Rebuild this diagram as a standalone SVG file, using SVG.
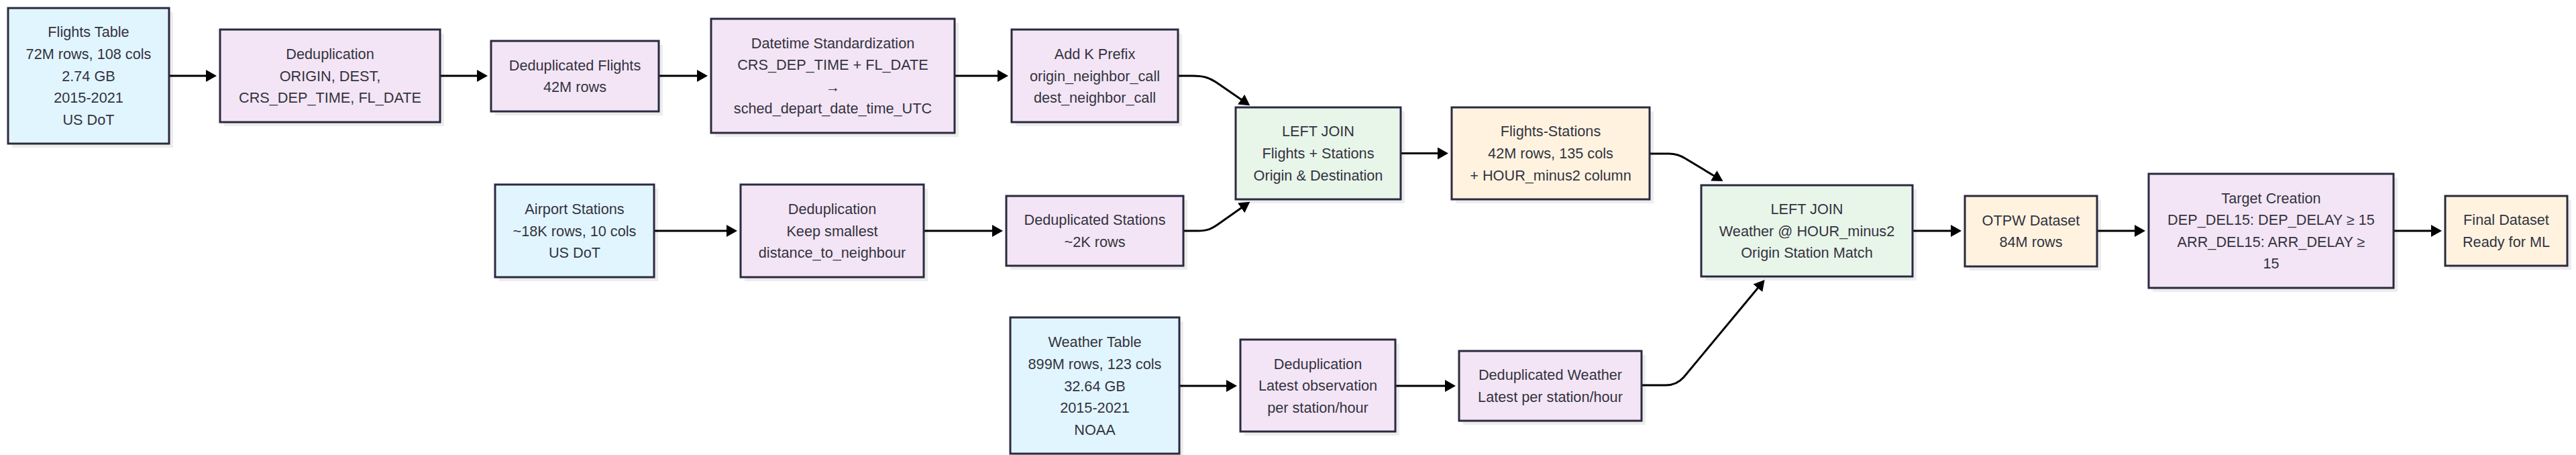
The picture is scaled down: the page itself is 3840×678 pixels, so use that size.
<svg xmlns="http://www.w3.org/2000/svg" width="3840" height="678" viewBox="0 0 3840 678">
<defs>
<style>
.box{stroke:#2a2a40;stroke-width:3}
.sh{fill:#000;fill-opacity:0.07}
.blue{fill:#e1f5fe}
.purple{fill:#f3e5f5}
.green{fill:#e8f5e9}
.orange{fill:#fff3e0}
text{font-family:"Liberation Sans",Arial,sans-serif;font-size:21.7px;fill:#333340;text-anchor:middle;dominant-baseline:central}
.edge{fill:none;stroke:#000;stroke-width:3;marker-end:url(#ah)}
</style>
<marker id="ah" markerUnits="userSpaceOnUse" markerWidth="16" markerHeight="18" refX="12" refY="9" orient="auto" viewBox="0 0 16 18"><path d="M0,0 L16,9 L0,18 z" fill="#000"/></marker>
</defs>
<rect width="3840" height="678" fill="#fff"/>

<g id="connectors">
<path class="edge" d="M252,113 H319"/>
<path class="edge" d="M656,113 H723"/>
<path class="edge" d="M982,113 H1051"/>
<path class="edge" d="M1423,113 H1499"/>
<path class="edge" d="M975,344 H1095"/>
<path class="edge" d="M1377,344 H1491"/>
<path class="edge" d="M2088,228.5 H2155"/>
<path class="edge" d="M2851,344 H2920"/>
<path class="edge" d="M3126,344 H3194"/>
<path class="edge" d="M3568,344 H3636"/>
<path class="edge" d="M1758,575 H1840"/>
<path class="edge" d="M2080,575 H2166"/>
<path class="edge" d="M1756,113 L1778,113 C1795,113 1803,116 1815,124 L1860,155"/>
<path class="edge" d="M1764,344 L1786,344 C1800,344 1806,341 1816,334 L1860,303"/>
<path class="edge" d="M2459,229 L2488,229 C2498,229 2504,231 2512,236 L2565,268"/>
<path class="edge" d="M2447,574 L2483,574 C2495,574 2503,570 2510,562 L2628,420"/>
</g>

<g id="flights_table">
<rect class="sh" x="18" y="18" width="240" height="202"/>
<rect class="box blue" x="12" y="12" width="240" height="202"/>
<text x="132" y="47.8">Flights Table</text>
<text x="132" y="80.4">72M rows, 108 cols</text>
<text x="132" y="113">2.74 GB</text>
<text x="132" y="145.6">2015-2021</text>
<text x="132" y="178.2">US DoT</text>
</g>

<g id="dedup_flights_step">
<rect class="sh" x="334" y="50" width="328" height="138"/>
<rect class="box purple" x="328" y="44" width="328" height="138"/>
<text x="492" y="80.4">Deduplication</text>
<text x="492" y="113">ORIGIN, DEST,</text>
<text x="492" y="145.6">CRS_DEP_TIME, FL_DATE</text>
</g>

<g id="dedup_flights">
<rect class="sh" x="738" y="67" width="250" height="105"/>
<rect class="box purple" x="732" y="61" width="250" height="105"/>
<text x="857" y="97.2">Deduplicated Flights</text>
<text x="857" y="129.8">42M rows</text>
</g>

<g id="datetime_std">
<rect class="sh" x="1066" y="34" width="363" height="170"/>
<rect class="box purple" x="1060" y="28" width="363" height="170"/>
<text x="1241.5" y="64.1">Datetime Standardization</text>
<text x="1241.5" y="96.7">CRS_DEP_TIME + FL_DATE</text>
<text x="1241.5" y="129.3">→</text>
<text x="1241.5" y="161.9">sched_depart_date_time_UTC</text>
</g>

<g id="add_k_prefix">
<rect class="sh" x="1514" y="50" width="248" height="138"/>
<rect class="box purple" x="1508" y="44" width="248" height="138"/>
<text x="1632" y="80.4">Add K Prefix</text>
<text x="1632" y="113">origin_neighbor_call</text>
<text x="1632" y="145.6">dest_neighbor_call</text>
</g>

<g id="airport_stations">
<rect class="sh" x="744" y="281" width="237" height="138"/>
<rect class="box blue" x="738" y="275" width="237" height="138"/>
<text x="856.5" y="311.4">Airport Stations</text>
<text x="856.5" y="344">~18K rows, 10 cols</text>
<text x="856.5" y="376.6">US DoT</text>
</g>

<g id="dedup_stations_step">
<rect class="sh" x="1110" y="281" width="273" height="138"/>
<rect class="box purple" x="1104" y="275" width="273" height="138"/>
<text x="1240.5" y="311.4">Deduplication</text>
<text x="1240.5" y="344">Keep smallest</text>
<text x="1240.5" y="376.6">distance_to_neighbour</text>
</g>

<g id="dedup_stations">
<rect class="sh" x="1506" y="298" width="264" height="104"/>
<rect class="box purple" x="1500" y="292" width="264" height="104"/>
<text x="1632" y="327.7">Deduplicated Stations</text>
<text x="1632" y="360.3">~2K rows</text>
</g>

<g id="left_join_1">
<rect class="sh" x="1848" y="166" width="246" height="137"/>
<rect class="box green" x="1842" y="160" width="246" height="137"/>
<text x="1965" y="195.9">LEFT JOIN</text>
<text x="1965" y="228.5">Flights + Stations</text>
<text x="1965" y="261.1">Origin &amp; Destination</text>
</g>

<g id="flights_stations">
<rect class="sh" x="2170" y="166" width="295" height="137"/>
<rect class="box orange" x="2164" y="160" width="295" height="137"/>
<text x="2311.5" y="195.9">Flights-Stations</text>
<text x="2311.5" y="228.5">42M rows, 135 cols</text>
<text x="2311.5" y="261.1">+ HOUR_minus2 column</text>
</g>

<g id="weather_table">
<rect class="sh" x="1512" y="479" width="252" height="204"/>
<rect class="box blue" x="1506" y="473" width="252" height="203"/>
<text x="1632" y="509.8">Weather Table</text>
<text x="1632" y="542.4">899M rows, 123 cols</text>
<text x="1632" y="575">32.64 GB</text>
<text x="1632" y="607.6">2015-2021</text>
<text x="1632" y="640.2">NOAA</text>
</g>

<g id="dedup_weather_step">
<rect class="sh" x="1855" y="512" width="231" height="137"/>
<rect class="box purple" x="1849" y="506" width="231" height="137"/>
<text x="1964.5" y="542">Deduplication</text>
<text x="1964.5" y="574.6">Latest observation</text>
<text x="1964.5" y="607.2">per station/hour</text>
</g>

<g id="dedup_weather">
<rect class="sh" x="2181" y="529" width="272" height="104"/>
<rect class="box purple" x="2175" y="523" width="272" height="104"/>
<text x="2311" y="558.7">Deduplicated Weather</text>
<text x="2311" y="591.3">Latest per station/hour</text>
</g>

<g id="left_join_2">
<rect class="sh" x="2542" y="282" width="315" height="136"/>
<rect class="box green" x="2536" y="276" width="315" height="136"/>
<text x="2693.5" y="311.4">LEFT JOIN</text>
<text x="2693.5" y="344">Weather @ HOUR_minus2</text>
<text x="2693.5" y="376.6">Origin Station Match</text>
</g>

<g id="otpw_dataset">
<rect class="sh" x="2935" y="298" width="197" height="105"/>
<rect class="box orange" x="2929" y="292" width="197" height="105"/>
<text x="3027.5" y="328.2">OTPW Dataset</text>
<text x="3027.5" y="360.8">84M rows</text>
</g>

<g id="target_creation">
<rect class="sh" x="3209" y="265" width="365" height="170"/>
<rect class="box purple" x="3203" y="259" width="365" height="170"/>
<text x="3385.5" y="295.1">Target Creation</text>
<text x="3385.5" y="327.7">DEP_DEL15: DEP_DELAY ≥ 15</text>
<text x="3385.5" y="360.3">ARR_DEL15: ARR_DELAY ≥</text>
<text x="3385.5" y="392.9">15</text>
</g>

<g id="final_dataset">
<rect class="sh" x="3651" y="298" width="182" height="104"/>
<rect class="box orange" x="3645" y="292" width="182" height="104"/>
<text x="3736" y="327.7">Final Dataset</text>
<text x="3736" y="360.3">Ready for ML</text>
</g>
</svg>
